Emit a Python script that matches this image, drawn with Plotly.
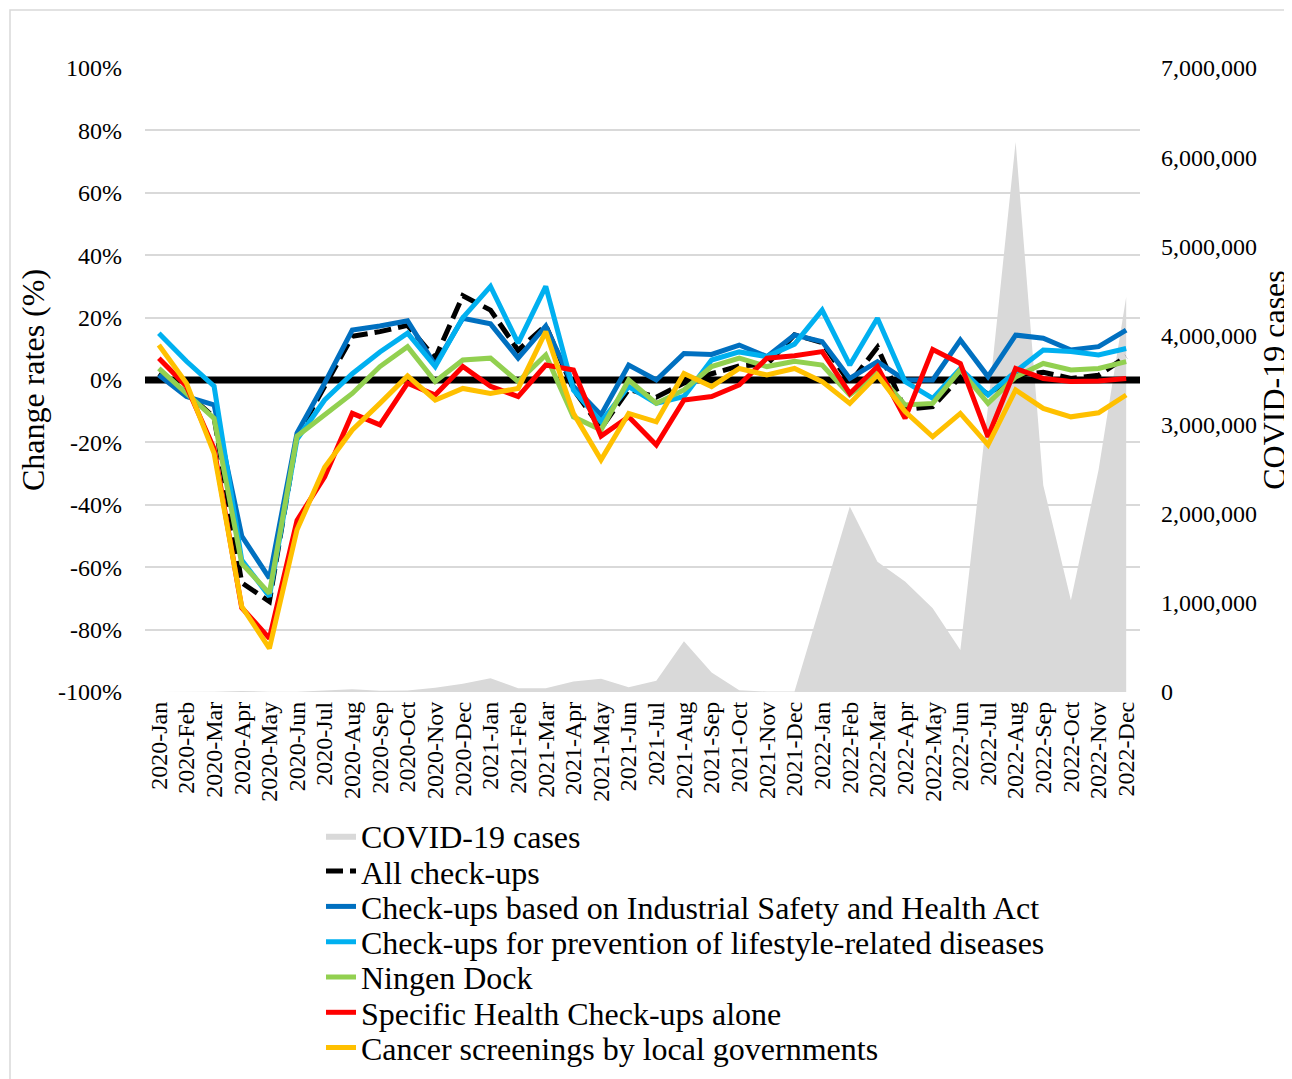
import plotly.graph_objects as go

months = [f"{y}-{m}" for y in (2020, 2021, 2022)
          for m in ["Jan", "Feb", "Mar", "Apr", "May", "Jun", "Jul", "Aug", "Sep", "Oct", "Nov", "Dec"]]

covid_cases = [14, 230, 1900, 12000, 2400, 1700, 17000, 32000, 15000, 18000, 47000, 92000,
               155000, 42000, 43000, 118000, 150000, 54000, 125000, 570000, 220000, 20000, 5000, 5500,
               1040000, 2080000, 1460000, 1240000, 940000, 470000, 3200000, 6170000, 2320000, 1030000, 2490000, 4430000]

all_checkups = [2, -4, -12, -65, -71, -18, -2, 14, 15.5, 17.5, 7, 27,
                22.4, 9.5, 17.5, -3, -15.5, -3, -5.5, -1, 2, 4.5, 5, 14.5,
                12, -1, 10.5, -9.5, -8.5, 1, -4.5, 1.5, 2.5, 0.5, 1.5, 7.5]

industrial = [1.6, -5.3, -8, -50, -63.5, -17, -1, 16, 17.3, 19, 4.8, 19.8,
              18, 7, 17.3, -2, -11.2, 4.8, 0, 8.5, 8.2, 11.2, 7.5, 14.4,
              12.3, 0.5, 5.9, 0, 0, 12.8, 1.1, 14.4, 13.4, 9.6, 10.7, 16]

lifestyle = [15, 6, -2, -57.7, -69.4, -19, -6.4, 2, 9, 15, 4.3, 20,
             30, 11.8, 30, -3.2, -13.4, -2.1, -7.5, -5.3, 6.4, 9, 7.5, 11.5,
             22.4, 4.8, 19.8, -0.5, -5.9, 3.7, -4.8, 2.7, 9.6, 9.1, 8, 10.1]

ningen_dock = [3.7, -4.3, -12.3, -58.8, -68.4, -18, -11, -4.3, 4.3, 10.7, -0.5, 6.4,
               7, -0.5, 8, -11.8, -16, 0, -7.5, -3.2, 4.3, 7, 4.3, 6,
               4.8, -4.8, 2.1, -8, -7.5, 3.2, -7.5, 1, 5.3, 3.2, 3.7, 5.9]

specific = [7, -2, -22, -73, -82.8, -45, -31, -10.7, -14.4, -1, -4.8, 4.3,
            -2, -5.3, 4.8, 3.2, -18, -11.8, -20.8, -6.4, -5.3, -1.6, 7, 7.8,
            9.1, -4.3, 4.3, -12.3, 9.8, 5.3, -18.2, 3.7, 0.5, -0.5, -0.3, 0.5]

cancer = [11.2, -1, -23.5, -72.6, -86, -48, -28, -16, -7.5, 1.3, -6.4, -2.7,
          -4.3, -2.7, 15.5, -10.7, -25.6, -10.7, -13.4, 2.1, -2.1, 3.7, 1.6, 3.7,
          -0.5, -7.5, 1.6, -10.1, -18.2, -10.7, -20.8, -3.2, -9.1, -11.8, -10.5, -4.8]

pct_ticks = list(range(-100, 101, 20))
pct_labels = [f"{v}%" for v in pct_ticks]
case_ticks = list(range(0, 7000001, 1000000))

FONT = "Liberation Serif, Times New Roman, serif"

# page is 1292x1079; the HTML body adds an 8px margin, so the figure is offset by OFF
OFF = 8
PAGE_W, PAGE_H = 1292, 1079
W, H = PAGE_W - OFF, PAGE_H - OFF
# plot area in page pixels: x 145..1140, y 68..692
L, T = 145 - OFF, 68 - OFF
R, B = W - (1140 - OFF), H - (692 - OFF)
PW, PH = W - L - R, H - T - B


def px_x(page_x):
    return (page_x - OFF - L) / PW


def px_y(page_y):
    return (T + PH - (page_y - OFF)) / PH


idx = list(range(len(months)))
xr = [-0.5, len(months) - 0.5]

line_series = [
    ("All check-ups", all_checkups, "black", "17px,7px"),
    ("Check-ups based on Industrial Safety and Health Act", industrial, "#0070C0", "solid"),
    ("Check-ups for prevention of lifestyle-related diseases", lifestyle, "#00B0F0", "solid"),
    ("Ningen Dock", ningen_dock, "#92D050", "solid"),
    ("Specific Health Check-ups alone", specific, "#FF0000", "solid"),
    ("Cancer screenings by local governments", cancer, "#FFC000", "solid"),
]

legend_first_y = 836
legend_step = 35.3
legend_left = 321


def legend_name(k):
    return "legend" if k == 0 else f"legend{k + 1}"


fig = go.Figure()

# COVID-19 cases area (main y axis, right side)
fig.add_trace(go.Scatter(
    x=idx, y=covid_cases, name="COVID-19 cases", mode="lines",
    line=dict(width=0, color="#D9D9D9"), fill="tozeroy", fillcolor="#D9D9D9",
    xaxis="x", yaxis="y", legend=legend_name(0), hoverinfo="skip"))

# zero reference line (above the area, below the series)
fig.add_trace(go.Scatter(
    x=xr, y=[0, 0], mode="lines", line=dict(color="black", width=7),
    xaxis="x", yaxis="y2", showlegend=False, hoverinfo="skip"))

for k, (name, vals, color, dash) in enumerate(line_series, start=1):
    fig.add_trace(go.Scatter(
        x=idx, y=vals, name=name, mode="lines",
        line=dict(color=color, width=5, dash=dash),
        xaxis="x", yaxis="y2", legend=legend_name(k)))

legends = {}
for k in range(len(line_series) + 1):
    ypx = legend_first_y + k * legend_step
    legends[legend_name(k)] = dict(
        x=px_x(legend_left), xanchor="left",
        y=px_y(ypx), yanchor="middle",
        bgcolor="rgba(0,0,0,0)", borderwidth=0,
        font=dict(family=FONT, size=32, color="black"),
        itemwidth=30, tracegroupgap=0)

fig.update_layout(
    width=W, height=H,
    margin=dict(l=L, r=R, t=T, b=B, autoexpand=False),
    paper_bgcolor="white", plot_bgcolor="white",
    font=dict(family=FONT, color="black"),
    showlegend=True,
    xaxis=dict(
        range=xr, tickmode="array", tickvals=idx, ticktext=months,
        tickangle=-90, tickfont=dict(family=FONT, size=24, color="black"),
        showgrid=False, zeroline=False, showline=False, ticks="",
        ticklabelstandoff=4, automargin=False, fixedrange=True),
    yaxis=dict(
        side="right", range=[0, 7000000], tickmode="array", tickvals=case_ticks,
        tickformat=",d", tickfont=dict(family=FONT, size=24, color="black"),
        showgrid=False, zeroline=False, showline=False, ticks="",
        ticklabelstandoff=20, automargin=False,
        title=dict(text="COVID-19 cases", font=dict(family=FONT, size=32, color="black"), standoff=33)),
    yaxis2=dict(
        overlaying="y", side="left", range=[-100, 100], tickmode="array",
        tickvals=pct_ticks, ticktext=pct_labels,
        tickfont=dict(family=FONT, size=24, color="black"),
        showgrid=True, gridcolor="#D9D9D9", gridwidth=1.5,
        zeroline=False, showline=False, ticks="",
        ticklabelstandoff=22, automargin=False,
        title=dict(text="Change rates (%)", font=dict(family=FONT, size=32, color="black"), standoff=3)),
    shapes=[dict(type="rect", xref="paper", yref="paper",
                 x0=px_x(10), x1=px_x(PAGE_W + 30),
                 y0=px_y(PAGE_H + 30), y1=px_y(10),
                 line=dict(color="#D9D9D9", width=1.5), fillcolor="rgba(0,0,0,0)", layer="below")],
    **legends,
)

fig.write_html("out.html")
